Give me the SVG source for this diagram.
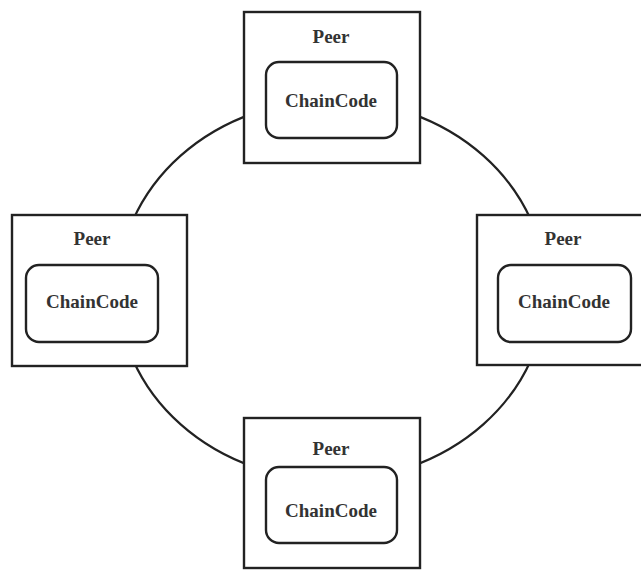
<svg xmlns="http://www.w3.org/2000/svg" width="641" height="570" viewBox="0 0 641 570">
  <style>
    .ring { fill: none; stroke: #222; stroke-width: 2.2; }
    .peer { fill: #fff; stroke: #222; stroke-width: 2.4; }
    .cc { fill: #fff; stroke: #222; stroke-width: 2.4; }
    .lbl { font-family: "Liberation Serif", "Times New Roman", serif; font-weight: bold; font-size: 19px; fill: #333; text-anchor: middle; }
  </style>
  <rect width="641" height="570" fill="#fff"/>
  <g id="connectors">
    <ellipse class="ring" cx="332" cy="290" rx="214" ry="190"/>
  </g>
  <g id="peer-top">
    <rect class="peer" x="244" y="12" width="176" height="151"/>
    <text class="lbl" x="331" y="43">Peer</text>
    <g id="chaincode-top">
      <rect class="cc" x="266" y="62" width="131" height="76" rx="13"/>
      <text class="lbl" x="331" y="107">ChainCode</text>
    </g>
  </g>
  <g id="peer-left">
    <rect class="peer" x="12" y="215" width="175" height="151"/>
    <text class="lbl" x="92" y="245">Peer</text>
    <g id="chaincode-left">
      <rect class="cc" x="26" y="265" width="132" height="77" rx="13"/>
      <text class="lbl" x="92" y="308">ChainCode</text>
    </g>
  </g>
  <g id="peer-right">
    <rect class="peer" x="477" y="215" width="180" height="150"/>
    <text class="lbl" x="563" y="245">Peer</text>
    <g id="chaincode-right">
      <rect class="cc" x="498" y="265" width="133" height="77" rx="13"/>
      <text class="lbl" x="564" y="308">ChainCode</text>
    </g>
  </g>
  <g id="peer-bottom">
    <rect class="peer" x="244" y="418" width="176" height="150"/>
    <text class="lbl" x="331" y="455">Peer</text>
    <g id="chaincode-bottom">
      <rect class="cc" x="266" y="467" width="131" height="76" rx="13"/>
      <text class="lbl" x="331" y="517">ChainCode</text>
    </g>
  </g>
</svg>
